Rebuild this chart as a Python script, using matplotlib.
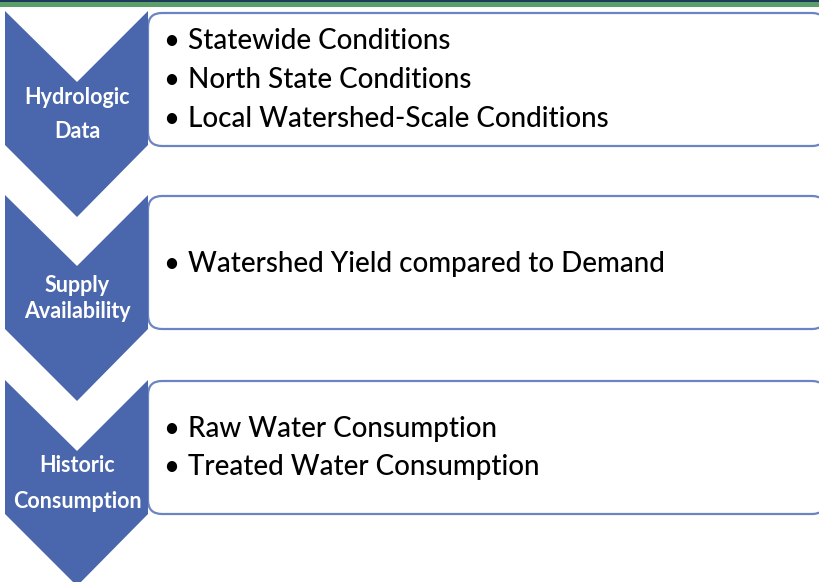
import matplotlib.pyplot as plt
from matplotlib.patches import Polygon, FancyBboxPatch, Rectangle

# Process steps (chevron labels) and their bullet items
steps = [["Hydrologic", "Data"],
         ["Supply", "Availability"],
         ["Historic", "Consumption"]]
bullets = [["Statewide Conditions",
            "North State Conditions",
            "Local Watershed-Scale Conditions"],
           ["Watershed Yield compared to Demand"],
           ["Raw Water Consumption",
            "Treated Water Consumption"]]

# layout, in pixels (y downward)
chev_top = [11, 195, 380]
box_top = [13, 196, 381]
box_bot = [146, 329, 514]
label_y = [[97, 132], [286, 312], [465, 501]]
bullet_y = [[41, 80, 119], [264], [429, 467]]

BLUE = "#4A66AC"
FONT = "Lato"

fig = plt.figure(figsize=(8.2, 5.82), dpi=100)
ax = fig.add_axes([0, 0, 1, 1])
ax.set_xlim(0, 820)
ax.set_ylim(582, 0)
ax.axis("off")

# header band
ax.add_patch(Rectangle((0, 0), 820, 2, color="#1F3A5A", lw=0))
ax.add_patch(Rectangle((0, 2), 820, 5, color="#5A9E6A", lw=0))

xl, xr, xm = 5, 148, 77
depth = 71
for i, lines in enumerate(steps):
    t = chev_top[i]
    pts = [(xl, t), (xm, t + depth), (xr, t), (xr, t + 134),
           (xm, t + 134 + depth + 1), (xl, t + 134)]
    ax.add_patch(Polygon(pts, closed=True, color=BLUE, lw=0, zorder=3))
    for txt, y in zip(lines, label_y[i]):
        ax.text(xm, y, txt, color="white", fontsize=15.5, fontweight="bold",
                family=FONT, ha="center", va="center", zorder=4)

    box = FancyBboxPatch((xr, box_top[i]), 826 - xr, box_bot[i] - box_top[i],
                         boxstyle="round,pad=0,rounding_size=14",
                         fc="white", ec="#6C84C4", lw=1.6, zorder=2)
    ax.add_patch(box)
    for txt, y in zip(bullets[i], bullet_y[i]):
        ax.text(163, y, "\u2022", fontsize=20, family=FONT, color="black",
                ha="left", va="center", zorder=4)
        ax.text(188, y, txt, fontsize=20, family=FONT, fontweight="medium",
                color="black", ha="left", va="center", zorder=4)

fig.savefig("out.png", dpi=100)
